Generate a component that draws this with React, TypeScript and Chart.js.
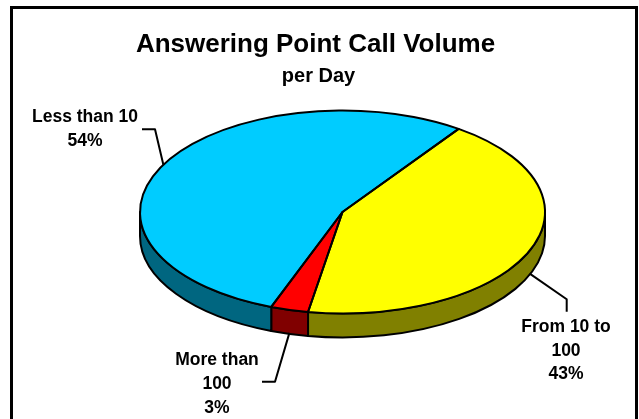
import React, { useEffect, useRef } from 'react';
import { Chart, registerables } from 'chart.js';

Chart.register(...registerables);

// ---- Data ----
const CATEGORIES = ['From 10 to\n100', 'More than\n100', 'Less than 10'];
const VALUES = [43, 3, 54];
const TOP_COLORS = ['#FFFF00', '#FF0000', '#00CCFF'];
const SIDE_COLORS = ['#808000', '#800000', '#006680'];
const TITLE = 'Answering Point Call Volume';
const SUBTITLE = 'per Day';

// ---- Layout / style ----
const W = 639;
const H = 419;
const TILT = 0.501; // vertical squash of the pie (ry / rx)
const DEPTH = 24; // thickness of the 3D pie
const FONT = '"Liberation Sans", Arial, Helvetica, sans-serif';
const LABEL_FONT_SIZE = 17.5;
const LINE_GAP = 23.8;
const LABEL_LAYOUT = [
  { elbow: [566.7, 299.3], end: [566.7, 311.7], x: 566, y: 331.7 },
  { elbow: [275, 381.7], end: [262, 381.7], x: 217, y: 365 },
  { elbow: [155, 129.3], end: [142, 129.3], x: 85, y: 121.7 },
];

function visibleRanges(s: number, e: number): [number, number][] {
  const out: [number, number][] = [];
  for (let k = -2; k <= 2; k++) {
    const a = Math.max(s, k * 2 * Math.PI);
    const b = Math.min(e, k * 2 * Math.PI + Math.PI);
    if (b > a) out.push([a, b]);
  }
  return out;
}

function arcProps(el: any) {
  return el.getProps(['x', 'y', 'startAngle', 'endAngle', 'outerRadius'], true);
}

const pie3d = {
  id: 'pie3d',
  beforeDraw(chart: any) {
    const ctx = chart.ctx;
    ctx.save();
    ctx.fillStyle = '#FFFFFF';
    ctx.fillRect(0, 0, W, H);
    ctx.strokeStyle = '#000000';
    ctx.lineWidth = 3;
    ctx.strokeRect(11.5, 7.5, 625, 500);
    ctx.fillStyle = '#000000';
    ctx.textAlign = 'center';
    ctx.textBaseline = 'alphabetic';
    ctx.font = `bold 26px ${FONT}`;
    ctx.fillText(TITLE, 315.5, 51.7);
    ctx.font = `bold 20px ${FONT}`;
    ctx.fillText(SUBTITLE, 318.5, 81.7);
    ctx.restore();
  },
  beforeDatasetsDraw(chart: any) {
    const ctx = chart.ctx;
    const meta = chart.getDatasetMeta(0);
    ctx.save();
    let cx = 0;
    let cy = 0;
    meta.data.forEach((el: any, i: number) => {
      const { x, y, startAngle, endAngle, outerRadius } = arcProps(el);
      cx = x;
      cy = y;
      const R = outerRadius;
      const ry = R * TILT;
      visibleRanges(startAngle, endAngle).forEach(([a, b]) => {
        ctx.beginPath();
        ctx.ellipse(x, y, R, ry, 0, a, b, false);
        ctx.lineTo(x + R * Math.cos(b), y + ry * Math.sin(b) + DEPTH);
        ctx.ellipse(x, y + DEPTH, R, ry, 0, b, a, true);
        ctx.closePath();
        ctx.fillStyle = SIDE_COLORS[i];
        ctx.fill();
        ctx.lineWidth = 2;
        ctx.lineJoin = 'round';
        ctx.strokeStyle = '#000000';
        ctx.stroke();
      });
    });
    ctx.translate(cx, cy);
    ctx.scale(1, TILT);
    ctx.translate(-cx, -cy);
  },
  afterDatasetsDraw(chart: any) {
    const ctx = chart.ctx;
    ctx.restore();
    const meta = chart.getDatasetMeta(0);
    ctx.save();
    ctx.strokeStyle = '#000000';
    ctx.lineWidth = 2;
    ctx.lineJoin = 'round';
    meta.data.forEach((el: any) => {
      const { x, y, startAngle, endAngle, outerRadius } = arcProps(el);
      const R = outerRadius;
      ctx.beginPath();
      ctx.moveTo(x, y);
      ctx.ellipse(x, y, R, R * TILT, 0, startAngle, endAngle, false);
      ctx.closePath();
      ctx.stroke();
    });
    // leader lines and labels
    ctx.fillStyle = '#000000';
    ctx.textAlign = 'center';
    ctx.textBaseline = 'alphabetic';
    ctx.font = `bold ${LABEL_FONT_SIZE}px ${FONT}`;
    meta.data.forEach((el: any, i: number) => {
      const { x, y, startAngle, endAngle, outerRadius } = arcProps(el);
      const R = outerRadius;
      const mid = (startAngle + endAngle) / 2;
      let ax = x + R * Math.cos(mid);
      let ay = y + R * TILT * Math.sin(mid);
      if (Math.sin(mid) > 0) ay += DEPTH - 1;
      const L = LABEL_LAYOUT[i];
      ctx.beginPath();
      ctx.moveTo(ax, ay);
      ctx.lineTo(L.elbow[0], L.elbow[1]);
      ctx.lineTo(L.end[0], L.end[1]);
      ctx.lineWidth = 2;
      ctx.stroke();
      const lines = [...CATEGORIES[i].split('\n'), `${VALUES[i]}%`];
      lines.forEach((t, k) => ctx.fillText(t, L.x, L.y + k * LINE_GAP));
    });
    ctx.restore();
  },
};

export default function App() {
  const ref = useRef<HTMLCanvasElement | null>(null);
  useEffect(() => {
    if (!ref.current) return;
    const chart = new Chart(ref.current, {
      type: 'pie',
      data: {
        labels: CATEGORIES,
        datasets: [
          {
            data: VALUES,
            backgroundColor: TOP_COLORS,
            borderWidth: 0,
            hoverOffset: 0,
            clip: false,
          } as any,
        ],
      },
      options: {
        responsive: false,
        animation: false,
        events: [],
        rotation: 35,
        layout: { padding: { left: 140, right: 94, top: 9.5, bottom: 4.5 } },
        plugins: {
          legend: { display: false },
          tooltip: { enabled: false },
          title: { display: false },
        },
      } as any,
      plugins: [pie3d as any],
    });
    return () => chart.destroy();
  }, []);
  return (
    <div style={{ position: 'fixed', left: 0, top: 0, width: W, height: H, background: '#fff' }}>
      <canvas ref={ref} width={W} height={H} style={{ display: 'block', width: W, height: H }} />
    </div>
  );
}
